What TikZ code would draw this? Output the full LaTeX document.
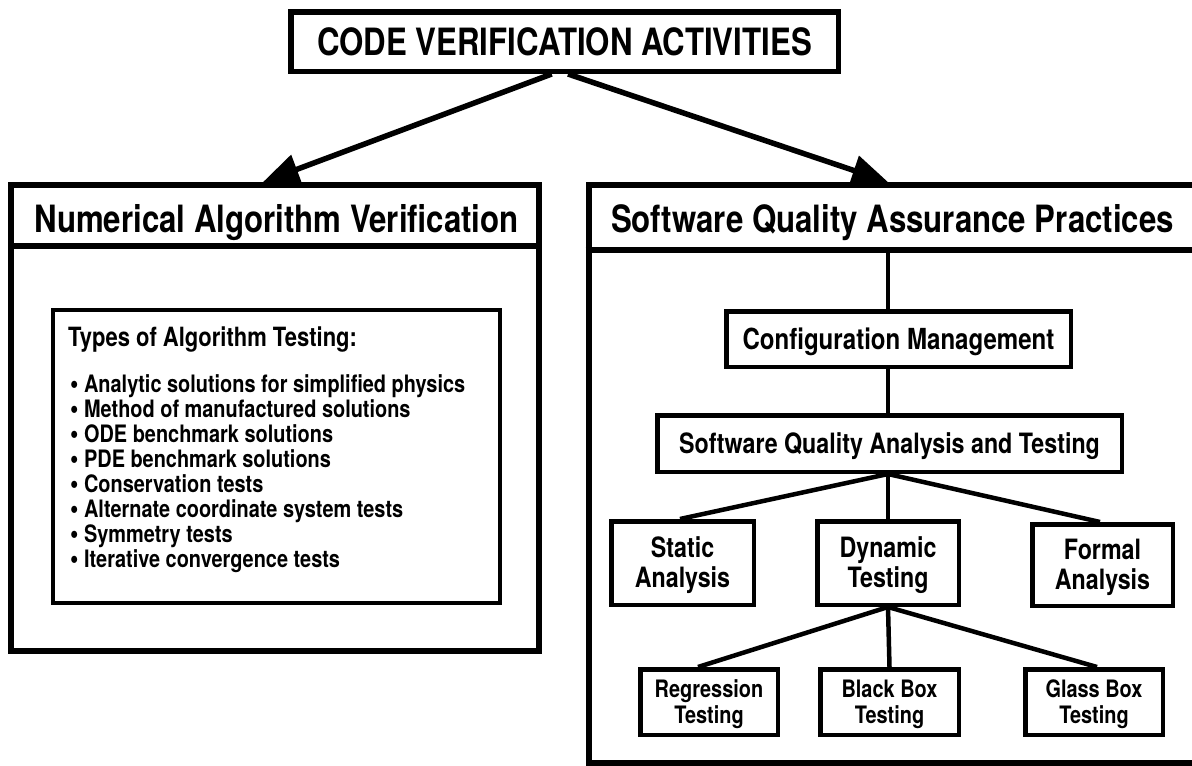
\documentclass[tikz,border=0pt]{standalone}
\usepackage{fontspec}
\setmainfont{TeX Gyre Heros}[FakeStretch=0.83]
\usetikzlibrary{arrows.meta,backgrounds}
\newcommand\cvstrut{\rule{0pt}{0.93em}}
\newcommand\cvTitle{\bfseries\fontsize{37.6}{40}\selectfont}
\newcommand\cvHead{\bfseries\fontsize{37.6}{40}\selectfont}
\newcommand\cvTypes{\bfseries\fontsize{26.5}{28}\selectfont}
\newcommand\cvItem{\bfseries\fontsize{24}{25}\selectfont}
\newcommand\cvCM{\bfseries\fontsize{29}{31}\selectfont}
\newcommand\cvSQ{\bfseries\fontsize{28}{30}\selectfont}
\newcommand\cvMid{\bfseries\fontsize{28}{30}\selectfont}
\newcommand\cvLow{\bfseries\fontsize{24}{26}\selectfont}
\newcommand\cvbul{\raisebox{-0.07em}{\scalebox{1.2}{\textbullet}}}
\begin{document}
\begin{tikzpicture}[x=1pt,y=-1pt,
  bigbox/.style={draw, line width=6pt, inner sep=0pt},
  box/.style={draw, line width=4.5pt, fill=white, inner sep=0pt, align=center},
  label/.style={inner sep=0pt},
  itemtext/.style={inner sep=0pt, anchor=base west, font=\cvItem, text height=17.5pt, text depth=5pt},
  link/.style={line width=4.5pt},
  divider/.style={line width=6pt},
  bigarrow/.style={line width=5.5pt, -{Triangle[length=36pt,width=30pt]}}]
\useasboundingbox (0,0) rectangle (1192,766);

% top box
\node[box, line width=5.5pt, minimum width=547.5pt, minimum height=59.5pt,
      font=\cvTitle, text height=27pt, text depth=0pt] (cva) at (564.5,41.5)
      {CODE VERIFICATION ACTIVITIES};

% left big box
\node[bigbox, minimum width=528pt, minimum height=466pt] (nav) at (275,418) {};
\coordinate (navdiv) at (0,246);
\draw[divider] (nav.west |- navdiv) -- (nav.east |- navdiv);
\node[label, anchor=base, font=\cvHead] (navtitle) at (276.5,232)
      {Numerical Algorithm Verification};

\node[box, line width=4pt, minimum width=447pt, minimum height=293pt] (types) at (276.5,456.5) {};
\node[label, anchor=base west, font=\cvTypes] (typestitle) at (68,346)
      {Types of Algorithm Testing:};
\foreach \t [count=\i] in {Analytic solutions for simplified physics,
    Method of manufactured solutions,
    ODE benchmark solutions,
    PDE benchmark solutions,
    Conservation tests,
    Alternate coordinate system tests,
    Symmetry tests,
    Iterative convergence tests}
  \node[itemtext] (item\i) at (70,{392+25*(\i-1)}) {\cvbul\ \t};

% right big box
\node[bigbox, minimum width=611.5pt, minimum height=578pt] (sqap) at (894.25,474) {};
\coordinate (sqapdiv) at (0,250);
\draw[divider] (sqap.west |- sqapdiv) -- (sqap.east |- sqapdiv);
\node[label, anchor=base, font=\cvHead] (sqaptitle) at (892.5,232)
      {Software Quality Assurance Practices};
\coordinate (trunk) at (888,250);

\node[box, minimum width=344.5pt, minimum height=55.5pt, font=\cvCM,
      text height=21pt, text depth=0pt] (cm) at (898.5,339) {Configuration Management};
\node[box, minimum width=464.5pt, minimum height=56.5pt, font=\cvSQ,
      text height=20pt, text depth=0pt] (sqat) at (889.5,443.5) {Software Quality Analysis and Testing};

\node[box, minimum width=142.5pt, minimum height=83.5pt, font=\cvMid] (static) at (682.5,563) {\cvstrut Static\\Analysis};
\node[box, minimum width=141.5pt, minimum height=83.5pt, font=\cvMid] (dyn) at (888,563) {\cvstrut Dynamic\\Testing};
\node[box, minimum width=140.5pt, minimum height=81.5pt, font=\cvMid] (formal) at (1102.5,565) {\cvstrut Formal\\Analysis};

\node[box, minimum width=137.5pt, minimum height=65.5pt, font=\cvLow] (reg) at (709,702) {\cvstrut Regression\\Testing};
\node[box, minimum width=138.5pt, minimum height=65.5pt, font=\cvLow] (bbox) at (889.5,702) {\cvstrut Black Box\\Testing};
\node[box, minimum width=137.5pt, minimum height=65.5pt, font=\cvLow] (gbox) at (1094,702) {\cvstrut Glass Box\\Testing};

\coordinate (lt) at (263,0);
\coordinate (rt) at (888,0);

\begin{scope}[on background layer]
  \fill[white] (0,0) rectangle (1192,766);
  \draw[bigarrow] ([xshift=-12.8pt]cva.south) -- (nav.north -| lt);
  \draw[bigarrow] ([xshift=3.5pt]cva.south) -- (sqap.north -| rt);
  \draw[link] (trunk) -- (trunk |- cm.north);
  \draw[link] (cm.south -| trunk) -- (sqat.north -| trunk);
  \coordinate (sqatb) at (sqat.south -| trunk);
  \draw[link] (sqatb) -- ([xshift=-2.5pt]static.north);
  \draw[link] (sqatb) -- (dyn.north);
  \draw[link] (sqatb) -- ([xshift=-2.5pt]formal.north);
  \draw[link] (dyn.south) -- ([xshift=-11pt]reg.north);
  \draw[link] (dyn.south) -- (bbox.north);
  \draw[link] (dyn.south) -- ([xshift=3pt]gbox.north);
\end{scope}
\end{tikzpicture}
\end{document}
